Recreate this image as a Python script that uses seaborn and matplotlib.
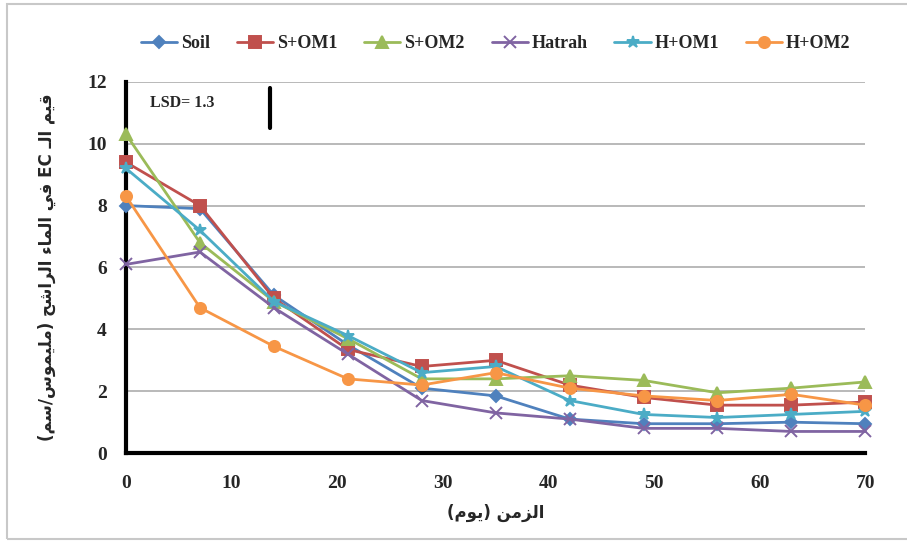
import numpy as np
import pandas as pd
import matplotlib
matplotlib.use('Agg')
import matplotlib.pyplot as plt
import seaborn as sns

# data
days = [0, 7, 14, 21, 28, 35, 42, 49, 56, 63, 70]
soil   = [8.0, 7.9, 5.1, 3.5, 2.1, 1.85, 1.1, 0.95, 0.95, 1.0, 0.95]
s_om1  = [9.4, 8.0, 5.0, 3.35, 2.8, 3.0, 2.2, 1.8, 1.55, 1.55, 1.65]
s_om2  = [10.3, 6.8, 4.9, 3.7, 2.4, 2.4, 2.5, 2.35, 1.95, 2.1, 2.3]
hatrah = [6.1, 6.5, 4.7, 3.2, 1.7, 1.3, 1.1, 0.8, 0.8, 0.7, 0.7]
h_om1  = [9.2, 7.2, 4.9, 3.8, 2.6, 2.8, 1.7, 1.25, 1.15, 1.25, 1.35]
h_om2  = [8.3, 4.7, 3.45, 2.4, 2.2, 2.6, 2.1, 1.85, 1.7, 1.9, 1.55]

names = ['Soil', 'S+OM1', 'S+OM2', 'Hatrah', 'H+OM1', 'H+OM2']
series = [soil, s_om1, s_om2, hatrah, h_om1, h_om2]
colors = ['#4F81BD', '#C0504D', '#9BBB59', '#8064A2', '#4BACC6', '#F79646']
markers = ['D', 's', '^', 'x', '*', 'o']
msizes = [6, 8, 8, 8, 9, 8]

lsd = 1.3
ylabel_txt = 'قيم الـ EC في الماء الراشح (مليموس/سم)'
xlabel_txt = 'الزمن (يوم)'

# --- tiny arabic shaper (matplotlib draws no joined forms) ---
FORMS = {
    'ا': (0xFE8D, 0xFE8E, None, None),
    'ء': (0xFE80, None, None, None),
    'ح': (0xFEA1, 0xFEA2, 0xFEA3, 0xFEA4),
    'ر': (0xFEAD, 0xFEAE, None, None),
    'ز': (0xFEAF, 0xFEB0, None, None),
    'س': (0xFEB1, 0xFEB2, 0xFEB3, 0xFEB4),
    'ش': (0xFEB5, 0xFEB6, 0xFEB7, 0xFEB8),
    'ف': (0xFED1, 0xFED2, 0xFED3, 0xFED4),
    'ق': (0xFED5, 0xFED6, 0xFED7, 0xFED8),
    'ل': (0xFEDD, 0xFEDE, 0xFEDF, 0xFEE0),
    'م': (0xFEE1, 0xFEE2, 0xFEE3, 0xFEE4),
    'ن': (0xFEE5, 0xFEE6, 0xFEE7, 0xFEE8),
    'و': (0xFEED, 0xFEEE, None, None),
    'ي': (0xFEF1, 0xFEF2, 0xFEF3, 0xFEF4),
    'ـ': (0x0640, 0x0640, 0x0640, 0x0640),
}


def shape_word(w):
    out = []
    for i, c in enumerate(w):
        if c not in FORMS:
            out.append(c)
            continue
        f = FORMS[c]
        prev = w[i - 1] if i > 0 else None
        nxt = w[i + 1] if i + 1 < len(w) else None
        jp = prev in FORMS and FORMS[prev][2] is not None and f[1] is not None
        jn = nxt in FORMS and FORMS[nxt][1] is not None and f[2] is not None
        if jp and jn:
            out.append(chr(f[3]))
        elif jp:
            out.append(chr(f[1]))
        elif jn:
            out.append(chr(f[2]))
        else:
            out.append(chr(f[0]))
    return ''.join(out)


def rtl(s):
    words = []
    for w in s.split(' '):
        if any(ch in FORMS for ch in w):
            w = shape_word(w)[::-1]
            w = w.translate(str.maketrans('()', ')('))
        words.append(w)
    return ' '.join(words[::-1])


sns.set_style('white')
plt.rcParams['font.family'] = ['Liberation Serif', 'DejaVu Sans']

fig = plt.figure(figsize=(9.07, 5.42), dpi=100)
ax = fig.add_axes([0.139, 0.164, 0.815, 0.685])

for name, vals, c, m, ms in zip(names, series, colors, markers, msizes):
    sns.lineplot(x=days, y=vals, ax=ax, color=c, marker=m, markersize=ms,
                 markeredgecolor=c, markeredgewidth=1.4, linewidth=2,
                 label=name, clip_on=False, zorder=3)

ax.set_xlim(0, 70)
ax.set_ylim(0, 12)
ax.set_xticks(np.arange(0, 71, 10))
ax.set_yticks(np.arange(0, 13, 2))
ax.yaxis.grid(True, color='#b3b3b3', linewidth=1.3)
ax.xaxis.grid(False)
for sp in ['top', 'right']:
    ax.spines[sp].set_visible(False)
for sp in ['left', 'bottom']:
    ax.spines[sp].set_color('black')
    ax.spines[sp].set_linewidth(3)
ax.tick_params(axis='both', direction='out', length=5, width=2, color='black',
               labelsize=14)
ax.tick_params(axis='x', pad=11)
ax.tick_params(axis='y', pad=9)
for lab in ax.get_xticklabels() + ax.get_yticklabels():
    lab.set_fontweight('bold')

ax.set_xlabel(rtl(xlabel_txt), family=['DejaVu Sans'], fontsize=12,
              fontweight='bold', labelpad=8)
ax.set_ylabel(rtl(ylabel_txt), family=['DejaVu Sans'], fontsize=12,
              fontweight='bold', labelpad=22)

# LSD bar
ax.text(2.3, 11.3, 'LSD= 1.3', fontsize=11.5, fontweight='bold', va='center')
ax.plot([13.6, 13.6], [11.8 - lsd, 11.8], color='black', linewidth=3)

ax.legend(loc='lower center', bbox_to_anchor=(0.5, 1.06), ncol=6,
          frameon=False, prop={'weight': 'bold', 'size': 13},
          handlelength=2.0, handletextpad=0.2, columnspacing=1.5,
          borderaxespad=0)

fig.patches.append(plt.Rectangle((7 / 907, 3 / 542), 1.0, 535 / 542,
                                 transform=fig.transFigure, fill=False,
                                 edgecolor='#c8c8c8', linewidth=1.5))

fig.savefig('out.png', dpi=100)
